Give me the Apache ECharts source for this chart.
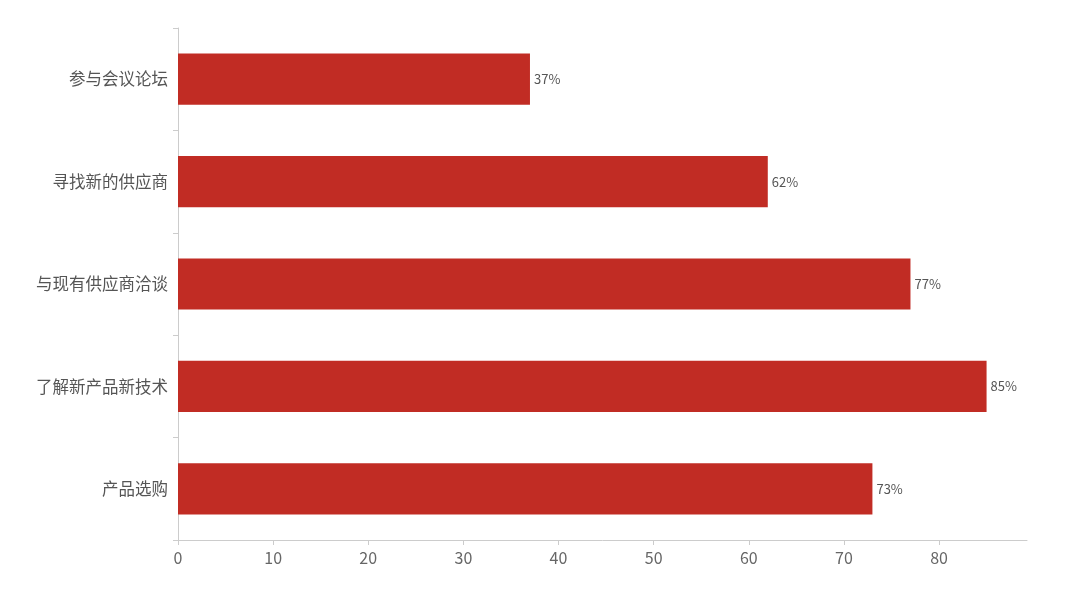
<!DOCTYPE html>
<html><head><meta charset="utf-8">
<script src="https://cdn.jsdelivr.net/npm/echarts@6/dist/echarts.min.js"></script>
<style>html,body{margin:0;padding:0;background:#fff}#c{width:1080px;height:608px}</style>
</head><body><div id="c"></div>
<script>
const categories = ['产品选购','了解新产品新技术','与现有供应商洽谈','寻找新的供应商','参与会议论坛'];
const values = [73, 85, 77, 62, 37];
const xTicks = [0,10,20,30,40,50,60,70,80];
const chart = echarts.init(document.getElementById('c'));
chart.setOption({
  animation:false,
  grid:{left:178,right:53,top:28,bottom:68,containLabel:false},
  xAxis:{type:'value',min:0,max:89.25,interval:10,
    axisLine:{show:true,lineStyle:{color:'#ccc'}},
    axisTick:{show:true,customValues:xTicks,lineStyle:{color:'#ccc'}},
    splitLine:{show:false},
    axisLabel:{customValues:xTicks,color:'#666',fontSize:16,margin:10,fontFamily:'Noto Sans CJK SC'}},
  yAxis:{type:'category',data:categories,
    axisLine:{lineStyle:{color:'#ccc'}},
    axisTick:{show:true,lineStyle:{color:'#ccc'}},
    axisLabel:{color:'#555',fontSize:16.5,margin:10,fontFamily:'Noto Sans CJK SC'}},
  series:[{type:'bar',data:values,barWidth:'50%',
    itemStyle:{color:'#c12c24'},
    label:{show:true,position:'right',formatter:'{c}%',color:'#555',fontSize:13,distance:4,fontFamily:'Noto Sans CJK SC'}}]
});
</script></body></html>
